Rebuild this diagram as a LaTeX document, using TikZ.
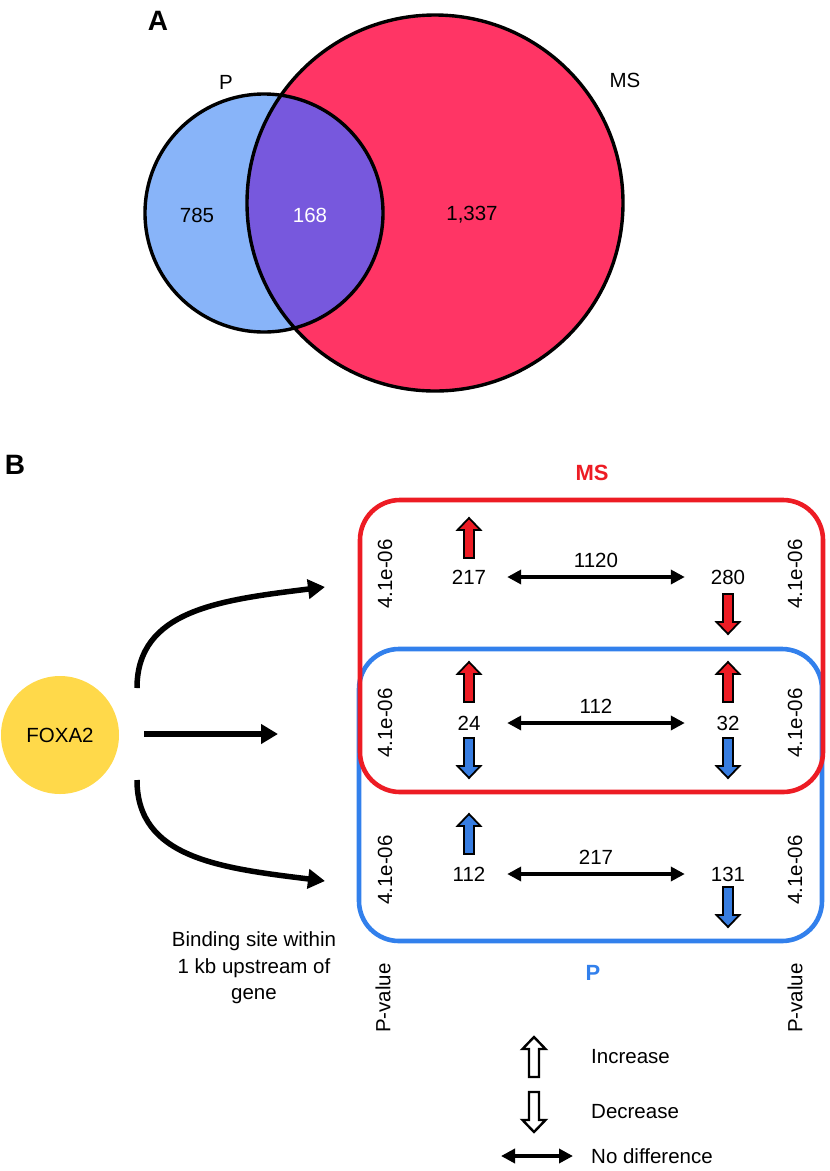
\documentclass[tikz,border=0pt]{standalone}
\usepackage{fontspec}
\setmainfont{Liberation Sans}
\usetikzlibrary{arrows.meta}
\definecolor{vblue}{RGB}{136,180,249}
\definecolor{vred}{RGB}{255,53,101}
\definecolor{vpur}{RGB}{119,88,221}
\definecolor{fox}{RGB}{255,217,74}
\definecolor{bred}{RGB}{237,28,36}
\definecolor{bblue}{RGB}{50,128,236}
\definecolor{ablue}{RGB}{55,125,225}
\newcommand{\blkup}[3]{\draw[blkarr,fill=#3] (#1-5,#2) -- (#1-5,#2-28) -- (#1-11.5,#2-28) -- (#1,#2-40) -- (#1+11.5,#2-28) -- (#1+5,#2-28) -- (#1+5,#2) -- cycle;}
\newcommand{\blkdn}[3]{\draw[blkarr,fill=#3] (#1-5,#2) -- (#1-5,#2+28) -- (#1-11.5,#2+28) -- (#1,#2+40) -- (#1+11.5,#2+28) -- (#1+5,#2+28) -- (#1+5,#2) -- cycle;}
\begin{document}
\begin{tikzpicture}[x=1pt,y=-1pt,
  every node/.style={font=\fontsize{20.5}{26.5}\selectfont, inner sep=0pt},
  panel/.style={font=\fontsize{28}{30}\selectfont\bfseries},
  grp/.style={font=\fontsize{22}{24}\selectfont\bfseries},
  venn/.style={line width=3.4pt},
  num/.style={minimum width=76pt},
  pv/.style={rotate=90},
  grpbox/.style={draw, line width=4.6pt, rounded corners=40pt, minimum width=463pt},
  flow/.style={line width=5.5pt, -{Triangle[length=17pt,width=19pt]}},
  dbl/.style={line width=3.6pt, {Triangle[length=14pt,width=14pt]}-{Triangle[length=14pt,width=14pt]}},
  blkarr/.style={draw=black, line width=1.8pt, line join=miter},
  legarr/.style={draw=black, line width=2.4pt, line join=miter}]
\useasboundingbox (0,0) rectangle (830,1171);
% ---------- Panel A ----------
\node[panel] (A) at (158,21) {A};
\node[circle, fill=vred, minimum size=376pt] (ms) at (435,203) {};
\node[circle, fill=vblue, minimum size=238pt] (p) at (264,213) {};
\begin{scope}
  \clip (264,213) circle[radius=119];
  \fill[vpur] (435,203) circle[radius=188];
\end{scope}
\draw[venn] (ms.center) circle[radius=188];
\draw[venn] (p.center) circle[radius=119];
\node (n785) at (197,215) {785};
\node[text=white] (n168) at (310,215) {168};
\node (n1337) at (472,215) {1,337};
\node (lp) at (226,82) {P};
\node (lms) at (625,80) {MS};
% ---------- Panel B ----------
\node[panel] (B) at (15,465) {B};
\node[circle, fill=fox, minimum size=118pt] (foxa) at (60,735) {FOXA2};
\coordinate (s1) at (137,688);
\coordinate (t1) at (325,587);
\coordinate (s2) at (144,734);
\coordinate (t2) at (278,734);
\coordinate (s3) at (137,780);
\coordinate (t3) at (325,881);
\draw[flow] (s1) .. controls (137,610) and (220,600) .. (t1);
\draw[flow] (s2) -- (t2);
\draw[flow] (s3) .. controls (137,858) and (220,868) .. (t3);
\node[align=center] (bind) at (254,968) {Binding site within\\1 kb upstream of\\gene};
% boxes
\node[grpbox, draw=bblue, minimum height=292pt] (pbox) at (590.5,795) {};
\node[grpbox, draw=bred, minimum height=292pt] (msbox) at (591.5,646) {};
\node[grp, text=bred] (mslab) at (592,473) {MS};
\node[grp, text=bblue] (plab) at (593,973) {P};
% p-values
\node[pv] (pv1l) at (385,574) {4.1e-06};
\node[pv] (pv1r) at (795,574) {4.1e-06};
\node[pv] (pv2l) at (385,723) {4.1e-06};
\node[pv] (pv2r) at (795,723) {4.1e-06};
\node[pv] (pv3l) at (385,870) {4.1e-06};
\node[pv] (pv3r) at (795,870) {4.1e-06};
\node[pv] (pvl) at (383,998) {P-value};
\node[pv] (pvr) at (795,998) {P-value};
% row 1
\node[num] (r1l) at (469,577) {217};
\node[num] (r1r) at (728,577) {280};
\draw[dbl] (r1l.east) -- node[above=8pt] (l1) {1120} ([xshift=-5pt]r1r.west);
\blkup{469}{558}{bred}
\blkdn{728}{594}{bred}
% row 2
\node[num] (r2l) at (469,723) {24};
\node[num] (r2r) at (728,723) {32};
\draw[dbl] (r2l.east) -- node[above=8pt] (l2) {112} ([xshift=-5pt]r2r.west);
\blkup{469}{702}{bred}
\blkup{728}{702}{bred}
\blkdn{469}{738}{ablue}
\blkdn{728}{738}{ablue}
% row 3
\node[num] (r3l) at (469,874) {112};
\node[num] (r3r) at (728,874) {131};
\draw[dbl] (r3l.east) -- node[above=8pt] (l3) {217} ([xshift=-5pt]r3r.west);
\blkup{469}{854}{ablue}
\blkdn{728}{887}{ablue}
% legend
\draw[legarr, fill=white] (534-5,1077) -- (534-5,1049) -- (534-11.5,1049) -- (534,1037) -- (534+11.5,1049) -- (534+5,1049) -- (534+5,1077) -- cycle;
\draw[legarr, fill=white] (534-5,1092) -- (534-5,1120) -- (534-11.5,1120) -- (534,1132) -- (534+11.5,1120) -- (534+5,1120) -- (534+5,1092) -- cycle;
\coordinate (ld1) at (501,1156);
\coordinate (ld2) at (573,1156);
\draw[dbl] (ld1) -- (ld2);
\node[anchor=west] (linc) at (591,1057) {Increase};
\node[anchor=west] (ldec) at (591,1112) {Decrease};
\node[anchor=west] (lnd) at (591,1156) {No difference};
\end{tikzpicture}
\end{document}
